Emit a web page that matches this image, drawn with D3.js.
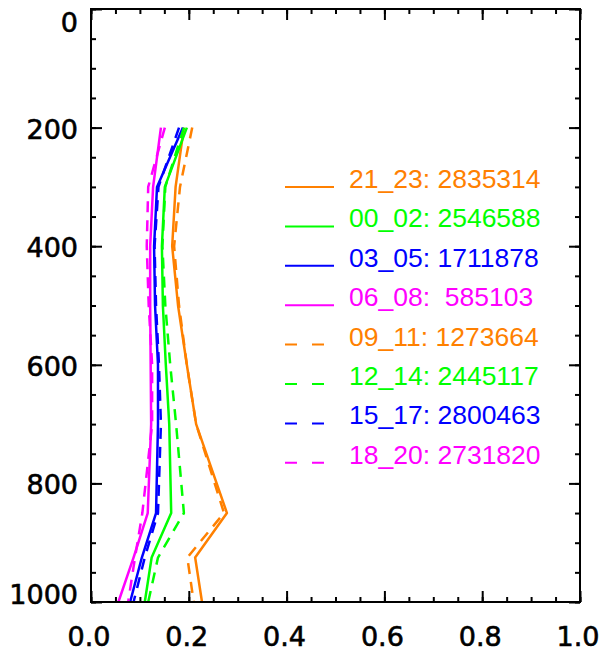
<!DOCTYPE html>
<html>
<head>
<meta charset="utf-8">
<script src="https://cdn.jsdelivr.net/npm/d3@7"></script>
<style>
  body { margin: 0; background: #fff; }
  text { font-family: "Liberation Sans", Arial, sans-serif; }
</style>
</head>
<body>
<div id="chart"></div>
<script>
// pressure levels (hPa) and fraction values for each 3-hour group
const levels = [200, 300, 400, 500, 600, 700, 850, 925, 1000];

const names = ["21_23", "00_02", "03_05", "06_08", "09_11", "12_14", "15_17", "18_20"];
const counts = ["2835314", "2546588", "1711878", " 585103", "1273664", "2445117", "2800463", "2731820"];
const colors = ["#ff8000", "#00ff00", "#0000ff", "#ff00ff", "#ff8000", "#00ff00", "#0000ff", "#ff00ff"];
const dashed = [false, false, false, false, true, true, true, true];

const s21_23 = [0.190, 0.173, 0.166, 0.178, 0.196, 0.215, 0.278, 0.213, 0.227];
const s00_02 = [0.196, 0.151, 0.145, 0.147, 0.153, 0.160, 0.164, 0.124, 0.110];
const s03_05 = [0.188, 0.135, 0.129, 0.131, 0.137, 0.137, 0.133, 0.104, 0.080];
const s06_08 = [0.143, 0.127, 0.121, 0.121, 0.122, 0.123, 0.116, 0.087, 0.056];
const s09_11 = [0.207, 0.182, 0.170, 0.180, 0.196, 0.215, 0.272, 0.197, 0.210];
const s12_14 = [0.190, 0.152, 0.146, 0.152, 0.162, 0.174, 0.190, 0.137, 0.117];
const s15_17 = [0.180, 0.138, 0.130, 0.133, 0.139, 0.143, 0.137, 0.110, 0.087];
const s18_20 = [0.151, 0.117, 0.114, 0.118, 0.125, 0.125, 0.105, 0.090, 0.076];
const seriesValues = [s21_23, s00_02, s03_05, s06_08, s09_11, s12_14, s15_17, s18_20];

const xTicks = [0, 0.2, 0.4, 0.6, 0.8, 1.0];
const xTickLabels = ["0.0", "0.2", "0.4", "0.6", "0.8", "1.0"];
const yTicks = [0, 200, 400, 600, 800, 1000];
const yTickLabels = ["0", "200", "400", "600", "800", "1000"];

const W = 602, H = 653;
const margin = { top: 9, right: 22, bottom: 51, left: 91 };

const svg = d3.select("#chart").append("svg")
  .attr("width", W)
  .attr("height", H);

const x = d3.scaleLinear().domain([0, 1]).range([margin.left, W - margin.right]);
const y = d3.scaleLinear().domain([0, 1000]).range([margin.top, H - margin.bottom]);

const x0 = x.range()[0], x1 = x.range()[1];
const y0 = y.range()[0], y1 = y.range()[1];

// data lines
const line = d3.line()
  .x((d) => x(d.v))
  .y((d) => y(d.p));

seriesValues.forEach((vals, i) => {
  const pts = vals.map((v, j) => ({ v: v, p: levels[j] }));
  svg.append("path")
    .datum(pts)
    .attr("d", line)
    .attr("fill", "none")
    .attr("stroke", colors[i])
    .attr("stroke-width", 2.5)
    .attr("stroke-linejoin", "round")
    .attr("stroke-dasharray", dashed[i] ? "11,8" : null);
});

// ticks on all four sides (minor every 0.05 / 50, major at labels)
const xMinor = d3.range(0, 21).map((k) => k * 0.05);
const yMinor = d3.range(0, 21).map((k) => k * 50);

function addAxis(axis, tx, ty) {
  const g = svg.append("g")
    .attr("transform", `translate(${tx},${ty})`)
    .call(axis);
  g.select(".domain").remove();
  g.selectAll(".tick line").attr("stroke", "#000").attr("stroke-width", 2);
  g.selectAll(".tick text").remove();
  return g;
}

addAxis(d3.axisTop(x).tickValues(xMinor).tickSize(5), 0, y1);
addAxis(d3.axisTop(x).tickValues(xTicks).tickSize(11), 0, y1);
addAxis(d3.axisBottom(x).tickValues(xMinor).tickSize(5), 0, y0);
addAxis(d3.axisBottom(x).tickValues(xTicks).tickSize(11), 0, y0);
addAxis(d3.axisRight(y).tickValues(yMinor).tickSize(5), x0, 0);
addAxis(d3.axisRight(y).tickValues(yTicks).tickSize(11), x0, 0);
addAxis(d3.axisLeft(y).tickValues(yMinor).tickSize(5), x1, 0);
addAxis(d3.axisLeft(y).tickValues(yTicks).tickSize(11), x1, 0);

// frame
svg.append("rect")
  .attr("x", x0)
  .attr("y", y0)
  .attr("width", x1 - x0)
  .attr("height", y1 - y0)
  .attr("fill", "none")
  .attr("stroke", "#000")
  .attr("stroke-width", 2);

// tick labels (kept inside the frame's vertical span at both ends)
const tickFont = { family: "'DejaVu Sans', sans-serif", size: 27 };

svg.append("g").selectAll("text")
  .data(xTicks)
  .join("text")
  .attr("x", (d) => x(d) - 2)
  .attr("y", 646)
  .attr("text-anchor", "middle")
  .style("font-family", tickFont.family)
  .attr("font-size", tickFont.size)
  .attr("stroke", "#000")
  .attr("stroke-width", 0.6)
  .text((d, i) => xTickLabels[i]);

svg.append("g").selectAll("text")
  .data(yTicks)
  .join("text")
  .attr("x", 78)
  .attr("y", (d) => Math.min(Math.max(y(d) + 1, y0 + 13), y1 - 8) + 10)
  .attr("text-anchor", "end")
  .style("font-family", tickFont.family)
  .attr("font-size", tickFont.size)
  .attr("stroke", "#000")
  .attr("stroke-width", 0.6)
  .text((d, i) => yTickLabels[i]);

// legend
const legX = 285, legX2 = 334, legTextX = 349, legY = 188, legStep = 39.4;
const leg = svg.append("g");
names.forEach((n, i) => {
  const yy = legY + i * legStep;
  leg.append("line")
    .attr("x1", legX)
    .attr("x2", legX2)
    .attr("y1", yy - 1)
    .attr("y2", yy - 1)
    .attr("stroke", colors[i])
    .attr("stroke-width", 2)
    .attr("stroke-dasharray", dashed[i] ? "12,15" : null);
  leg.append("text")
    .attr("x", legTextX)
    .attr("y", yy)
    .attr("font-size", 26.5)
    .attr("fill", colors[i])
    .style("white-space", "pre")
    .text(n + ": " + counts[i]);
});
</script>
</body>
</html>
